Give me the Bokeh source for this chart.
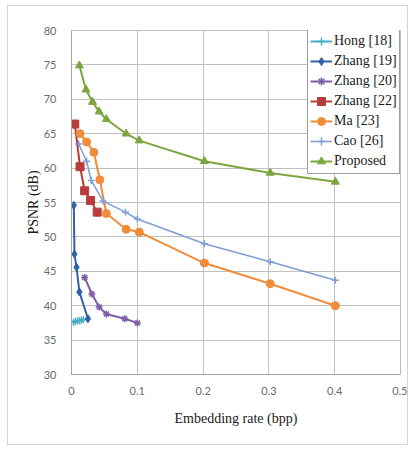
from bokeh.plotting import figure
from bokeh.models import FixedTicker, Legend
from bokeh.embed import file_html
from bokeh.resources import INLINE

# ---- data ----
hong_x = [0.003, 0.006, 0.009, 0.012, 0.015, 0.018]
hong_y = [37.6, 37.7, 37.8, 37.8, 37.9, 38.0]

zhang19_x = [0.0035, 0.0045, 0.0076, 0.012, 0.025]
zhang19_y = [54.6, 47.5, 45.6, 42.0, 38.1]

zhang20_x = [0.020, 0.031, 0.042, 0.053, 0.081, 0.100]
zhang20_y = [44.1, 41.7, 39.8, 38.8, 38.1, 37.5]

zhang22_x = [0.005, 0.013, 0.020, 0.029, 0.039]
zhang22_y = [66.4, 60.2, 56.7, 55.3, 53.6]

ma_x = [0.013, 0.023, 0.034, 0.043, 0.053, 0.083, 0.103, 0.202, 0.302, 0.401]
ma_y = [65.0, 63.8, 62.3, 58.3, 53.4, 51.1, 50.7, 46.2, 43.2, 40.0]

cao_x = [0.011, 0.023, 0.030, 0.048, 0.082, 0.100, 0.202, 0.302, 0.401]
cao_y = [63.5, 61.0, 58.2, 55.2, 53.6, 52.6, 49.0, 46.4, 43.7]

prop_x = [0.012, 0.022, 0.032, 0.042, 0.053, 0.083, 0.103, 0.202, 0.302, 0.401]
prop_y = [74.9, 71.4, 69.6, 68.2, 67.1, 65.0, 64.0, 61.0, 59.3, 58.0]

x_ticks = [0, 0.1, 0.2, 0.3, 0.4, 0.5]
x_tick_labels = ["0", "0.1", "0.2", "0.3", "0.4", "0.5"]
y_ticks = [30, 35, 40, 45, 50, 55, 60, 65, 70, 75, 80]

series = [
    ("Hong [18]", hong_x, hong_y, "#4BACC6", "cross", 7, 2),
    ("Zhang [19]", zhang19_x, zhang19_y, "#2F62A6", "diamond", 8, 2),
    ("Zhang [20]", zhang20_x, zhang20_y, "#7E5FA6", "asterisk", 7, 2),
    ("Zhang [22]", zhang22_x, zhang22_y, "#B83C3A", "square", 8, 2),
    ("Ma [23]", ma_x, ma_y, "#F08C3A", "circle", 8, 2),
    ("Cao [26]", cao_x, cao_y, "#7F9ED6", "cross", 7, 1.5),
    ("Proposed", prop_x, prop_y, "#7DA53E", "triangle", 8, 2),
]

SERIF = "Liberation Serif"
SANS = "Lato"

p = figure(width=401, height=440, output_backend="svg", toolbar_location=None,
           x_range=(0, 0.5), y_range=(30, 80),
           min_border_left=63, min_border_right=9,
           min_border_top=24, min_border_bottom=72)
p.styles = {"border": "1px solid #d4d4d4", "margin": "5px 0 0 7px"}
p.background_fill_color = "white"
p.border_fill_color = "white"
p.outline_line_color = "#bfbfbf"

p.xaxis.ticker = FixedTicker(ticks=x_ticks)
p.yaxis.ticker = FixedTicker(ticks=y_ticks)
p.xaxis.major_label_overrides = {t: l for t, l in zip(x_ticks, x_tick_labels)}

for ax in (p.xaxis, p.yaxis):
    ax.axis_line_color = "#a6a6a6"
    ax.major_tick_line_color = None
    ax.minor_tick_line_color = None
    ax.major_label_text_font = SANS
    ax.major_label_text_font_size = "11px"
    ax.major_label_text_color = "#6b6b6b"
    ax.axis_label_text_font = SERIF
    ax.axis_label_text_font_size = "14px"
    ax.axis_label_text_font_style = "normal"
    ax.axis_label_text_color = "#1a1a1a"

p.xaxis.axis_label = "Embedding rate (bpp)"
p.yaxis.axis_label = "PSNR (dB)"
p.xaxis.major_label_standoff = 6
p.xaxis.axis_label_standoff = 13
p.yaxis.major_label_standoff = 9
p.yaxis.axis_label_standoff = 0

p.grid.grid_line_color = "#c0c0c0"
p.grid.grid_line_width = 1

items = []
for name, xs, ys, col, mk, sz, lw in series:
    r1 = p.line(xs, ys, line_color=col, line_width=lw)
    r2 = p.scatter(xs, ys, marker=mk, size=sz, fill_color=col,
                   line_color=col, line_width=1.5 if mk in ("cross", "asterisk") else 1)
    items.append((name, [r1, r2]))

legend = Legend(items=items, location=(236, 200))
legend.label_text_font = SERIF
legend.label_text_font_size = "14px"
legend.label_text_color = "#1a1a1a"
legend.border_line_color = "#404040"
legend.border_line_width = 1
legend.background_fill_color = "white"
legend.background_fill_alpha = 1
legend.padding = 2
legend.margin = 0
legend.spacing = 0
legend.label_height = 20
legend.glyph_height = 20
legend.glyph_width = 22
legend.label_standoff = 2
p.add_layout(legend, "center")

open("out.html", "w").write(file_html(p, INLINE))
